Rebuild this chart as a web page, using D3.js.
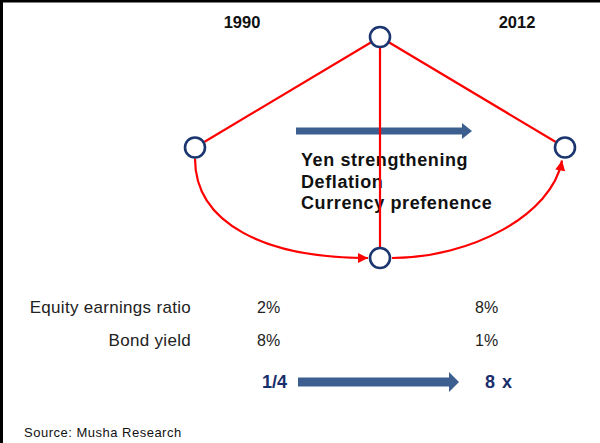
<!DOCTYPE html>
<html>
<head>
<meta charset="utf-8">
<script src="https://cdn.jsdelivr.net/npm/d3@7"></script>
<style>
  body { margin: 0; background: #fff; }
  svg { display: block; font-family: "Liberation Sans", Arial, sans-serif; }
</style>
</head>
<body>
<svg id="chart" width="600" height="443"></svg>
<script>
// diagram data
var years = ["1990", "2012"];
var columns = ["1990", "turn", "2012"];
var rows = ["top", "middle", "bottom"];
var nodes = [
  { id: "peak", col: "turn", row: "top" },
  { id: "start", col: "1990", row: "middle" },
  { id: "end", col: "2012", row: "middle" },
  { id: "trough", col: "turn", row: "bottom" }
];
var straightLinks = [["peak", "start"], ["peak", "end"], ["peak", "trough"]];
var curvedLinks = [["start", "trough"], ["trough", "end"]];
var drivers = ["Yen strengthening", "Deflation", "Currency prefenence"];
var metricNames = ["Equity earnings ratio", "Bond yield"];
var values1990 = ["2%", "8%"];
var values2012 = ["8%", "1%"];
var ratioFrom = "1/4";
var ratioTo = "8 x";
var source = "Source: Musha Research";

var svg = d3.select("#chart");

var x = d3.scalePoint().domain(columns).range([195, 565]);
var y = d3.scalePoint().domain(rows).range([37, 258]);
var tableX = d3.scalePoint().domain(years).range([257, 475]);
var tableY = d3.scalePoint().domain(metricNames).range([313, 346]);
var nodeById = {};
nodes.forEach(function(d) { nodeById[d.id] = d; });
var R = 10;

var red = "#ff0000", navy = "#1b356f", steel = "#3c5f8f";

// frame (top + left edges only)
svg.append("line").attr("x1", 0).attr("y1", 1).attr("x2", 600).attr("y2", 1)
  .attr("stroke", "#000").attr("stroke-width", 3);
svg.append("line").attr("x1", 1.5).attr("y1", 0).attr("x2", 1.5).attr("y2", 443)
  .attr("stroke", "#000").attr("stroke-width", 3);

var defs = svg.append("defs");
defs.append("marker")
  .attr("id", "redhead")
  .attr("viewBox", "0 0 10 10")
  .attr("refX", 10).attr("refY", 5)
  .attr("markerUnits", "userSpaceOnUse")
  .attr("markerWidth", 11).attr("markerHeight", 10)
  .attr("orient", "auto")
  .append("path").attr("d", "M0,0L10,5L0,10z").attr("fill", red);

// block arrow helper
function blockArrow(x0, x1, cy, shaft, head, len) {
  var h = shaft / 2, H = head / 2;
  return "M" + x0 + "," + (cy - h) + "L" + (x1 - len) + "," + (cy - h) +
    "L" + (x1 - len) + "," + (cy - H) + "L" + x1 + "," + cy +
    "L" + (x1 - len) + "," + (cy + H) + "L" + (x1 - len) + "," + (cy + h) +
    "L" + x0 + "," + (cy + h) + "Z";
}

// year headings
svg.selectAll(".year")
  .data(years)
  .enter().append("text")
  .attr("class", "year")
  .attr("x", function(d, i) { return i === 0 ? x(d) + 47 : x(d) - 48; })
  .attr("y", 28)
  .attr("text-anchor", "middle")
  .attr("font-size", 16.5).attr("font-weight", "bold")
  .attr("fill", "#111")
  .text(function(d) { return d; });

// upper arrow + drivers text (under the red lines)
svg.append("path")
  .attr("d", blockArrow(296, 472, 131, 7, 16, 10))
  .attr("fill", steel);

svg.selectAll(".driver")
  .data(drivers)
  .enter().append("text")
  .attr("class", "driver")
  .attr("x", 301)
  .attr("y", function(d, i) { return 166 + i * 21.5; })
  .attr("font-size", 18).attr("font-weight", "bold")
  .attr("letter-spacing", 0.6)
  .attr("fill", "#111")
  .text(function(d) { return d; });

// straight red links
svg.selectAll(".link")
  .data(straightLinks)
  .enter().append("line")
  .attr("class", "link")
  .attr("x1", function(d) { return x(nodeById[d[0]].col); })
  .attr("y1", function(d) { return y(nodeById[d[0]].row); })
  .attr("x2", function(d) { return x(nodeById[d[1]].col); })
  .attr("y2", function(d) { return y(nodeById[d[1]].row); })
  .attr("stroke", red).attr("stroke-width", 2.2);

// curved arrows
function curve(d) {
  var a = nodeById[d[0]], b = nodeById[d[1]];
  var ax = x(a.col), ay = y(a.row), bx = x(b.col), by = y(b.row);
  var p = d3.path();
  if (by > ay) {
    // down to the trough, arriving from the left
    p.moveTo(ax, ay + R + 1);
    p.bezierCurveTo(ax, ay + 76, bx - 115, by, bx - R - 2, by);
  } else {
    // up to the end node, arriving from below
    p.moveTo(ax + R + 2, ay);
    p.bezierCurveTo(ax + 90, ay, bx - 13, by + 68, bx - 3, by + R + 3);
  }
  return p.toString();
}
svg.selectAll(".arc")
  .data(curvedLinks)
  .enter().append("path")
  .attr("class", "arc")
  .attr("d", curve)
  .attr("fill", "none")
  .attr("stroke", red).attr("stroke-width", 2.2)
  .attr("marker-end", "url(#redhead)");

// nodes
svg.selectAll(".node")
  .data(nodes)
  .enter().append("circle")
  .attr("class", "node")
  .attr("cx", function(d) { return x(d.col); })
  .attr("cy", function(d) { return y(d.row); })
  .attr("r", R)
  .attr("fill", "#fff")
  .attr("stroke", navy).attr("stroke-width", 2.6);

// table
svg.selectAll(".metric")
  .data(metricNames)
  .enter().append("text")
  .attr("class", "metric")
  .attr("x", 191)
  .attr("y", function(d) { return tableY(d); })
  .attr("text-anchor", "end")
  .attr("font-size", 17).attr("letter-spacing", 0.3)
  .attr("fill", "#222")
  .text(function(d) { return d; });

svg.selectAll(".v1990")
  .data(values1990)
  .enter().append("text")
  .attr("x", tableX("1990"))
  .attr("y", function(d, i) { return tableY(metricNames[i]); })
  .attr("font-size", 16).attr("fill", "#222")
  .text(function(d) { return d; });

svg.selectAll(".v2012")
  .data(values2012)
  .enter().append("text")
  .attr("x", tableX("2012"))
  .attr("y", function(d, i) { return tableY(metricNames[i]); })
  .attr("font-size", 16).attr("fill", "#222")
  .text(function(d) { return d; });

// ratio arrow
svg.append("text")
  .attr("x", 262).attr("y", 388)
  .attr("font-size", 18).attr("font-weight", "bold")
  .attr("fill", "#1a2e6b")
  .text(ratioFrom);
svg.append("path")
  .attr("d", blockArrow(298, 459, 382, 9, 20, 10))
  .attr("fill", steel);
svg.append("text")
  .attr("x", 485).attr("y", 388)
  .attr("font-size", 18).attr("font-weight", "bold")
  .attr("letter-spacing", 1)
  .attr("fill", "#1a2e6b")
  .text(ratioTo);

// source note
svg.append("text")
  .attr("x", 24).attr("y", 437)
  .attr("font-size", 13).attr("letter-spacing", 0.5)
  .attr("fill", "#111")
  .text(source);
</script>
</body>
</html>
